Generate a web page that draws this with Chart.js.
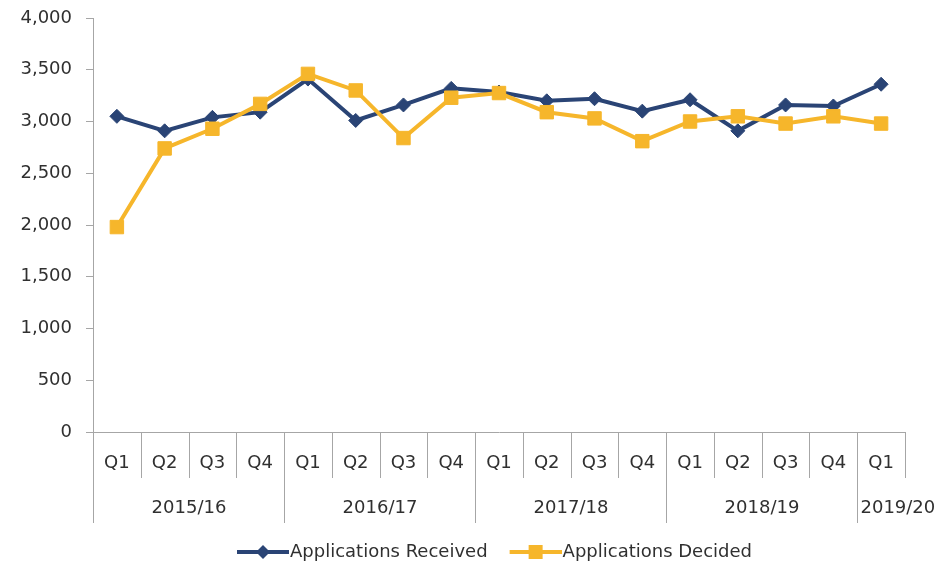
<!DOCTYPE html>
<html>
<head>
<meta charset="utf-8">
<script src="https://cdn.jsdelivr.net/npm/chart.js@4.4.1/dist/chart.umd.min.js"></script>
<style>
  html, body { margin: 0; padding: 0; background: #fff; }
  #wrap { width: 950px; height: 566px; }
</style>
</head>
<body>
<div id="wrap"><canvas id="chart" width="950" height="566"></canvas></div>
<script>
const quarters = ['Q1', 'Q2', 'Q3', 'Q4', 'Q1', 'Q2', 'Q3', 'Q4', 'Q1', 'Q2', 'Q3', 'Q4', 'Q1', 'Q2', 'Q3', 'Q4', 'Q1'];
const years = ['2015/16', '2016/17', '2017/18', '2018/19', '2019/20'];
const received = [3050, 2910, 3040, 3090, 3410, 3010, 3160, 3320, 3285, 3200, 3220, 3100, 3210, 2910, 3160, 3150, 3360];
const decided = [1980, 2740, 2930, 3170, 3460, 3300, 2840, 3230, 3275, 3090, 3030, 2810, 3000, 3050, 2980, 3050, 2980];

const NAVY = '#2a4475';
const GOLD = '#f6b62b';
const AXIS = '#a6a6a6';
const TEXT = '#303030';
const FONT = "'DejaVu Sans', Verdana, sans-serif";
const SIZE = 18;

// legend icon: a short line with the marker in the middle (Excel style)
function legendIcon(color, shape) {
  const c = document.createElement('canvas');
  c.width = 72;
  c.height = 18;
  const g = c.getContext('2d');
  g.strokeStyle = color;
  g.lineWidth = 4;
  g.beginPath();
  g.moveTo(20, 9);
  g.lineTo(72, 9);
  g.stroke();
  g.fillStyle = color;
  const cx = 46;
  if (shape === 'diamond') {
    g.beginPath();
    g.moveTo(cx, 2); g.lineTo(cx + 7, 9); g.lineTo(cx, 16); g.lineTo(cx - 7, 9);
    g.closePath();
    g.fill();
  } else {
    g.fillRect(cx - 7, 2, 14, 14);
  }
  return c;
}
const legendIcons = [legendIcon(NAVY, 'diamond'), legendIcon(GOLD, 'square')];

// separators under the x axis and the financial-year labels
const groupAxis = {
  id: 'groupAxis',
  afterLayout(chart) {
    // legend sits a little right of centre in the original
    chart.legend.left += 36;
    chart.legend.right += 36;
  },
  afterDraw(chart) {
    const { ctx, chartArea, scales: { x } } = chart;
    const half = (x.getPixelForValue(1) - x.getPixelForValue(0)) / 2;
    const y0 = chartArea.bottom;
    const edge = i => Math.round(x.getPixelForValue(i) - half) + 0.5;
    ctx.save();
    ctx.strokeStyle = AXIS;
    ctx.lineWidth = 1;
    for (let i = 0; i <= quarters.length; i++) {
      const isYear = i % 4 === 0 && i < quarters.length;
      ctx.beginPath();
      ctx.moveTo(edge(i), y0);
      ctx.lineTo(edge(i), isYear ? 523 : 478);
      ctx.stroke();
    }
    ctx.fillStyle = TEXT;
    ctx.font = SIZE + 'px ' + FONT;
    ctx.textBaseline = 'middle';
    years.forEach((yr, g) => {
      const a = g * 4;
      const b = Math.min(a + 4, quarters.length);
      const left = edge(a), right = edge(b);
      const w = ctx.measureText(yr).width;
      if (w > right - left - 6) {
        ctx.textAlign = 'left';
        ctx.fillText(yr, left + 3, 508);
      } else {
        ctx.textAlign = 'center';
        ctx.fillText(yr, (left + right) / 2, 508);
      }
    });
    ctx.restore();
  }
};

new Chart(document.getElementById('chart'), {
  type: 'line',
  data: {
    labels: quarters,
    datasets: [
      {
        label: 'Applications Received',
        data: received,
        borderColor: NAVY,
        backgroundColor: NAVY,
        borderWidth: 4,
        pointStyle: 'rectRot',
        pointRadius: 7,
        pointBorderWidth: 1,
        tension: 0,
        order: 1
      },
      {
        label: 'Applications Decided',
        data: decided,
        borderColor: GOLD,
        backgroundColor: GOLD,
        borderWidth: 4,
        pointStyle: 'rect',
        pointRadius: 9.5,
        pointBorderWidth: 1,
        tension: 0,
        order: 0
      }
    ]
  },
  options: {
    responsive: false,
    animation: false,
    layout: { padding: { top: 18, right: 45, bottom: -5, left: 0 } },
    plugins: {
      tooltip: { enabled: false },
      legend: {
        position: 'bottom',
        labels: {
          usePointStyle: true,
          pointStyleWidth: 56,
          padding: 10,
          color: TEXT,
          font: { family: FONT, size: SIZE },
          generateLabels: chart => chart.data.datasets.map((ds, i) => ({
            text: ds.label,
            pointStyle: legendIcons[i],
            datasetIndex: i,
            fontColor: TEXT,
            fillStyle: 'transparent',
            strokeStyle: 'transparent',
            lineWidth: 0,
            hidden: false
          }))
        }
      }
    },
    scales: {
      x: {
        offset: true,
        grid: { display: false, drawTicks: false, offset: true },
        border: { color: AXIS, width: 1 },
        ticks: { color: TEXT, font: { family: FONT, size: SIZE }, padding: 21, maxRotation: 0, autoSkip: false },
        afterFit: scale => { scale.height = 101; }
      },
      y: {
        min: 0,
        max: 4000,
        ticks: { stepSize: 500, color: TEXT, font: { family: FONT, size: SIZE }, padding: 14 },
        grid: { drawOnChartArea: false, drawTicks: true, tickLength: 7, color: AXIS },
        border: { color: AXIS, width: 1 },
        afterFit: scale => {
          scale.width = 93;
          scale.paddingTop = 0;
          scale.paddingBottom = 0;
        }
      }
    }
  },
  plugins: [groupAxis]
});
</script>
</body>
</html>
